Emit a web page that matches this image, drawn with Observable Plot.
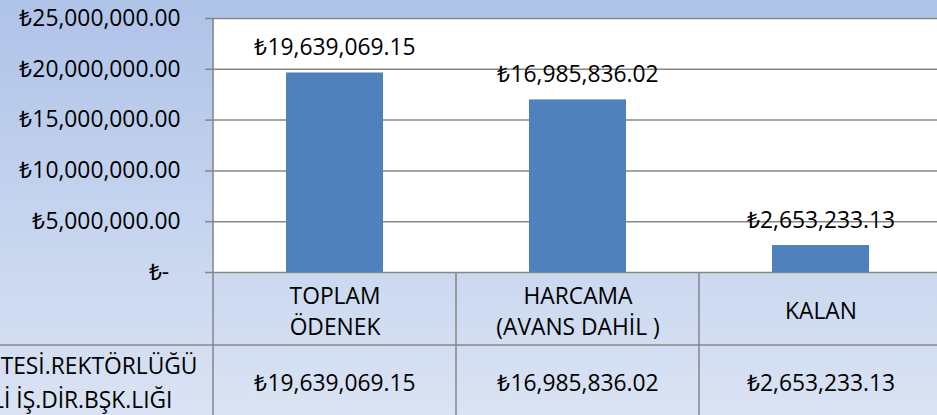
<!DOCTYPE html>
<html>
<head>
<meta charset="utf-8">
<script src="https://cdn.jsdelivr.net/npm/d3@7"></script>
<script src="https://cdn.jsdelivr.net/npm/@observablehq/plot@0.6"></script>
<style>
  html, body { margin: 0; padding: 0; }
  #chart {
    width: 937px; height: 415px; overflow: hidden; position: relative;
    background: linear-gradient(to bottom, #AFC3E8 0%, #C4D3EE 50%, #DAE3F3 100%);
  }
  #chart svg { position: absolute; left: 0; top: 0; }
</style>
</head>
<body>
<div id="chart"></div>
<script>
// ---- data ----
const categories = ["TOPLAM ÖDENEK", "HARCAMA (AVANS DAHİL )", "KALAN"];
const headerLabels = ["TOPLAM\nÖDENEK", "HARCAMA\n(AVANS DAHİL )", "KALAN"];
const values = [19639069.15, 16985836.02, 2653233.13];
const yTicks = [0, 5000000, 10000000, 15000000, 20000000, 25000000];
const seriesLabelLines = ["TESİ.REKTÖRLÜĞÜ", "Lİ İŞ.DİR.BŞK.LIĞI"];

const data = categories.map((c, i) => ({cat: c, header: headerLabels[i], value: values[i]}));
const money = v => "₺" + d3.format(",.2f")(v);
const tickFmt = v => v === 0 ? "₺-\u2002" : money(v);

const FONT = "'Open Sans', sans-serif";
const FS = 22.8;
const GRID = "#868686";

const plot = Plot.plot({
  width: 937,
  height: 415,
  marginTop: 18,
  marginBottom: 143,
  marginLeft: 213,
  marginRight: 0,
  style: {background: "transparent", fontFamily: FONT, fontSize: FS + "px", color: "#000", overflow: "visible"},
  x: {domain: categories, range: [213, 942], padding: 0, axis: null},
  y: {domain: [0, 25000000], axis: null},
  marks: [
    Plot.frame({fill: "white", stroke: null}),
    Plot.ruleY(yTicks, {stroke: GRID, strokeWidth: 1.5}),
    Plot.axisY({ticks: yTicks, tickSize: 8, tickPadding: 25, tickFormat: tickFmt,
      stroke: GRID, strokeWidth: 1.5, fill: "#000", fontSize: FS, label: null}),
    Plot.barY(data, {x: "cat", y: "value", fill: "#4F81BD", insetLeft: 73, insetRight: 73}),
    Plot.text(data, {x: "cat", y: "value", text: d => money(d.value), lineAnchor: "bottom",
      dy: -18, fontSize: FS, fill: "#000"}),
    // table header row
    Plot.text(data, {x: "cat", text: "header", frameAnchor: "bottom", lineAnchor: "middle",
      dy: 37, lineHeight: 1.34, fontSize: FS, fill: "#000"}),
    // table value row
    Plot.text(data, {x: "cat", text: d => money(d.value), frameAnchor: "bottom", lineAnchor: "middle",
      dy: 111, fontSize: FS, fill: "#000"}),
    // row label (clipped at the left edge in the original)
    Plot.text([seriesLabelLines[0]], {text: d => d, frameAnchor: "bottom-left", textAnchor: "end",
      lineAnchor: "middle", dx: -16, dy: 94, fontSize: FS, fill: "#000"}),
    Plot.text([seriesLabelLines[1]], {text: d => d, frameAnchor: "bottom-left", textAnchor: "end",
      lineAnchor: "middle", dx: -41, dy: 128, fontSize: FS, fill: "#000"})
  ]
});

// table grid lines from the plot's own scales
const xs = plot.scale("x");
const ys = plot.scale("y");
const svg = d3.select(plot);
const g = svg.append("g").attr("stroke", GRID).attr("stroke-width", 1.5);
const y0 = ys.apply(0), yTop = ys.apply(25000000);
const rowSplit = y0 + 73;
// axis line + table left border
g.append("line").attr("x1", xs.apply(categories[0])).attr("x2", xs.apply(categories[0]))
  .attr("y1", yTop).attr("y2", 415);
categories.slice(1).forEach(c => {
  const xx = xs.apply(c);
  g.append("line").attr("x1", xx).attr("x2", xx).attr("y1", y0).attr("y2", 415);
});
g.append("line").attr("x1", 0).attr("x2", 937).attr("y1", rowSplit).attr("y2", rowSplit);

document.getElementById("chart").appendChild(plot);
</script>
</body>
</html>
